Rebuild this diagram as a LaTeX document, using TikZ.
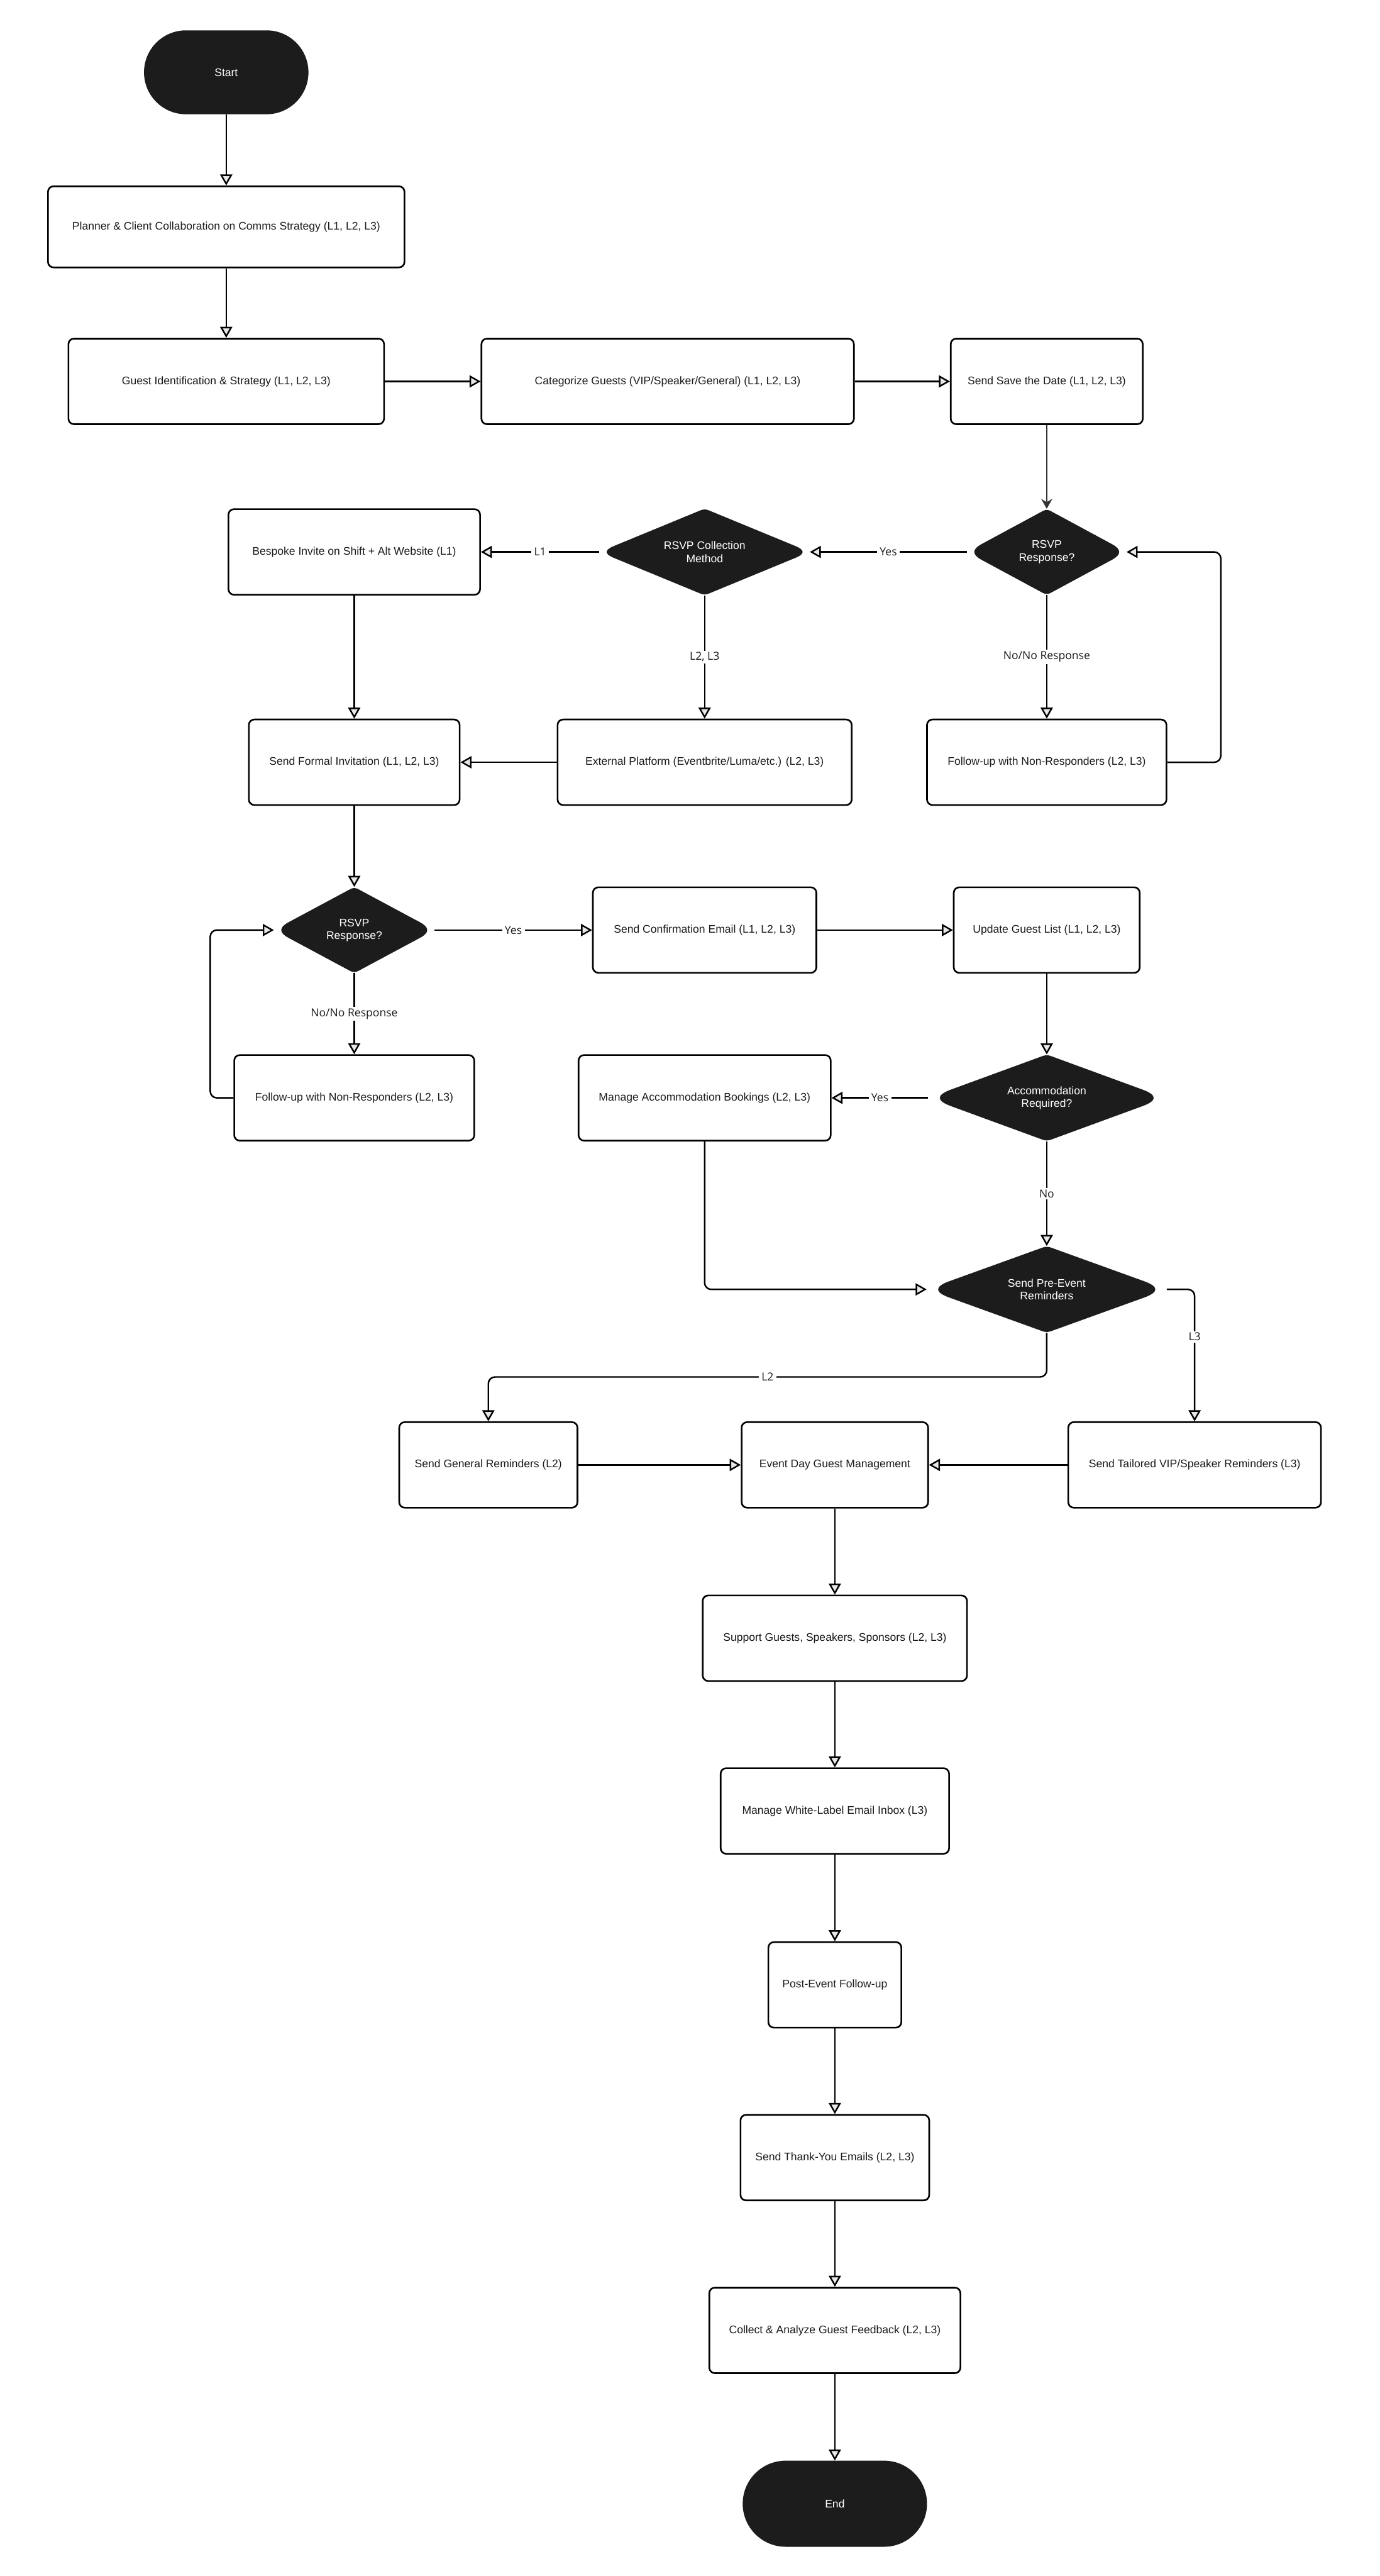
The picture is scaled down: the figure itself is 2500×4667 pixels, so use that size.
\documentclass[tikz,border=0pt]{standalone}
\usepackage{fontspec}
\setmainfont{Liberation Sans}
\newfontfamily\LblFamily{Open Sans}
\usetikzlibrary{arrows.meta}
\definecolor{darkfill}{HTML}{1C1C1C}
\definecolor{arrfill}{HTML}{E8E8E8}
\definecolor{txt}{HTML}{1A1A1A}
\definecolor{greyline}{HTML}{333333}
\newcommand\NodeFont{\fontsize{20}{23}\selectfont}
\newcommand\LblFont{\LblFamily\fontsize{20}{23}\selectfont}
\tikzset{
 box/.style={draw=black, line width=3pt, rounded corners=10pt, fill=white, minimum height=155pt, align=center, font=\NodeFont, text=txt, inner sep=0pt},
 term/.style={fill=darkfill, rounded corners=76pt, minimum height=152pt, font=\NodeFont, text=white, inner sep=0pt},
 diatext/.style={draw=none, fill=none, align=center, font=\NodeFont, text=white, inner sep=0pt},
 diafill/.style={fill=darkfill},
 arr/.style={draw=black, line width=2.8pt, -{Triangle[length=20pt,width=22pt,fill=arrfill]}},
 darr/.style={draw=greyline, line width=2.6pt, -{Stealth[length=18pt,width=20pt,inset=6pt]}},
 lbl/.style={fill=white, font=\LblFont, text=txt, inner xsep=5pt, inner ysep=3pt},
 rcorner/.style={rounded corners=12pt},
}
% name, x, y, geometric w, geometric h, side tangent, text
\newcommand\mkdia[7]{%
  \pgfmathsetmacro\DA{#4/2}%
  \pgfmathsetmacro\DB{#5/2}%
  \pgfmathsetmacro\DL{10*sqrt((\DA/10)^2+(\DB/10)^2)}%
  \pgfmathsetmacro\TSX{#6*\DA/\DL}%
  \pgfmathsetmacro\TSY{#6*\DB/\DL}%
  \pgfmathsetmacro\TTX{8*\DA/\DL}%
  \pgfmathsetmacro\TTY{8*\DB/\DL}%
  \fill[diafill,shift={(#2,#3)}]
    ({-\DA+\TSX},{\TSY}) -- ({-\TTX},{\DB-\TTY})
    .. controls ({-\TTX/3},{\DB-\TTY/3}) and ({\TTX/3},{\DB-\TTY/3}) .. ({\TTX},{\DB-\TTY})
    -- ({\DA-\TSX},{\TSY})
    .. controls ({\DA-\TSX/3},{\TSY/3}) and ({\DA-\TSX/3},{-\TSY/3}) .. ({\DA-\TSX},{-\TSY})
    -- ({\TTX},{-\DB+\TTY})
    .. controls ({\TTX/3},{-\DB+\TTY/3}) and ({-\TTX/3},{-\DB+\TTY/3}) .. ({-\TTX},{-\DB+\TTY})
    -- ({-\DA+\TSX},{-\TSY})
    .. controls ({-\DA+\TSX/3},{-\TSY/3}) and ({-\DA+\TSX/3},{\TSY/3}) .. ({-\DA+\TSX},{\TSY})
    -- cycle;
  \node[diatext,minimum width=#4pt,minimum height=#5pt] (#1) at (#2,#3) {#7};
}
\begin{document}
\begin{tikzpicture}[x=1pt,y=-1pt]
\fill[white] (0,0) rectangle (2500,4667);
\useasboundingbox (0,0) rectangle (2500,4667);

\node[term, minimum width=298pt] (startn) at (410,131) {Start};
\node[box, minimum width=646pt, minimum height=147pt] (planner) at (410,411) {Planner \& Client Collaboration on Comms Strategy (L1, L2, L3)};
\node[box, minimum width=572pt] (guest) at (410,691) {Guest Identification \& Strategy (L1, L2, L3)};
\node[box, minimum width=675pt] (categ) at (1210,691) {Categorize Guests (VIP/Speaker/General) (L1, L2, L3)};
\node[box, minimum width=348pt] (savedate) at (1897,691) {Send Save the Date (L1, L2, L3)};
\node[box, minimum width=456pt] (bespoke) at (642,1000) {Bespoke Invite on Shift + Alt Website (L1)};
\mkdia{rsvpcoll}{1277}{1000}{381}{157}{28}{RSVP Collection\\Method}
\mkdia{rsvpa}{1897}{1000}{289}{156}{30}{RSVP\\Response?}
\node[box, minimum width=382pt] (formal) at (642,1381) {Send Formal Invitation (L1, L2, L3)};
\node[box, minimum width=533pt] (external) at (1277,1381) {External Platform (Eventbrite/Luma/etc.) (L2, L3)};
\node[box, minimum width=434pt] (followa) at (1897,1381) {Follow-up with Non-Responders (L2, L3)};
\mkdia{rsvpb}{642}{1685}{291}{156}{30}{RSVP\\Response?}
\node[box, minimum width=405pt] (confirm) at (1277,1685) {Send Confirmation Email (L1, L2, L3)};
\node[box, minimum width=337pt] (update) at (1897,1685) {Update Guest List (L1, L2, L3)};
\node[box, minimum width=435pt] (followb) at (642,1989) {Follow-up with Non-Responders (L2, L3)};
\node[box, minimum width=457pt] (manacc) at (1277,1989) {Manage Accommodation Bookings (L2, L3)};
\mkdia{accom}{1897}{1989}{429}{157}{44}{Accommodation\\Required?}
\mkdia{preev}{1897}{2336}{435}{157}{44}{Send Pre-Event\\Reminders}
\node[box, minimum width=323pt] (general) at (885,2654) {Send General Reminders (L2)};
\node[box, minimum width=338pt] (eventday) at (1513,2654) {Event Day Guest Management};
\node[box, minimum width=458pt] (tailored) at (2165,2654) {Send Tailored VIP/Speaker Reminders (L3)};
\node[box, minimum width=479pt] (support) at (1513,2968) {Support Guests, Speakers, Sponsors (L2, L3)};
\node[box, minimum width=414pt] (whitelbl) at (1513,3281) {Manage White-Label Email Inbox (L3)};
\node[box, minimum width=241pt] (postev) at (1513,3596) {Post-Event Follow-up};
\node[box, minimum width=342pt] (thanks) at (1513,3909) {Send Thank-You Emails (L2, L3)};
\node[box, minimum width=455pt] (collect) at (1513,4222) {Collect \& Analyze Guest Feedback (L2, L3)};
\node[term, minimum width=334pt, minimum height=156pt, rounded corners=78pt] (endn) at (1513,4536) {End};

\draw[arr] (startn.south) -- (planner.north);
\draw[arr] (planner.south) -- (guest.north);
\draw[arr] (guest.east) -- (categ.west);
\draw[arr] (categ.east) -- (savedate.west);
\draw[darr] (savedate.south) -- (rsvpa.north);
\draw[arr] (rsvpa.west) -- node[lbl]{Yes} (rsvpcoll.east);
\draw[arr] (rsvpcoll.west) -- node[lbl]{L1} (bespoke.east);
\draw[arr] (rsvpcoll.south) -- node[lbl]{L2, L3} (external.north);
\draw[arr] (rsvpa.south) -- node[lbl]{No/No Response} (followa.north);
\draw[arr, rcorner] (followa.east) -- ++(97,0) |- (rsvpa.east);
\draw[arr] (bespoke.south) -- (formal.north);
\draw[arr] (external.west) -- (formal.east);
\draw[arr] (formal.south) -- (rsvpb.north);
\draw[arr] (rsvpb.east) -- node[lbl]{Yes} (confirm.west);
\draw[arr] (rsvpb.south) -- node[lbl]{No/No Response} (followb.north);
\draw[arr, rcorner] (followb.west) -- ++(-42,0) |- (rsvpb.west);
\draw[arr] (confirm.east) -- (update.west);
\draw[arr] (update.south) -- (accom.north);
\draw[arr] (accom.west) -- node[lbl]{Yes} (manacc.east);
\draw[arr] (accom.south) -- node[lbl]{No} (preev.north);
\draw[arr, rcorner] (manacc.south) |- (preev.west);
\draw[arr, rcorner] (preev.east) -| node[lbl, pos=0.68]{L3} (tailored.north);
\draw[arr, rcorner] (preev.south) -- ++(0,80) -| node[lbl, pos=0.25]{L2} (general.north);
\draw[arr] (general.east) -- (eventday.west);
\draw[arr] (tailored.west) -- (eventday.east);
\draw[arr] (eventday.south) -- (support.north);
\draw[arr] (support.south) -- (whitelbl.north);
\draw[arr] (whitelbl.south) -- (postev.north);
\draw[arr] (postev.south) -- (thanks.north);
\draw[arr] (thanks.south) -- (collect.north);
\draw[arr] (collect.south) -- (endn.north);
\end{tikzpicture}
\end{document}
